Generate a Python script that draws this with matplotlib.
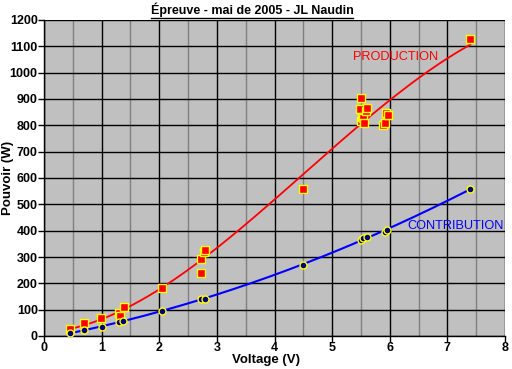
import numpy as np
import matplotlib
matplotlib.use("Agg")
import matplotlib.pyplot as plt
from matplotlib.lines import Line2D
from matplotlib.ticker import MultipleLocator

# Data
prod_v = [0.45, 0.69, 0.99, 1.30, 1.32, 1.39, 2.05, 2.72, 2.72, 2.77, 2.80,
          4.50, 5.49, 5.50, 5.50, 5.52, 5.54, 5.56, 5.59, 5.61, 5.89, 5.92, 5.94, 5.97, 7.40]
prod_p = [27, 49, 68, 87, 75, 110, 182, 239, 292, 320, 325,
          558, 862, 904, 816, 832, 828, 809, 854, 866, 801, 809, 847, 839, 1128]
contr_v = [0.45, 0.69, 1.00, 1.31, 1.37, 2.05, 2.72, 2.79, 4.50, 5.50, 5.54, 5.60, 5.92, 5.95, 7.40]
contr_p = [11, 23, 34, 53, 57, 95, 140, 142, 270, 365, 372, 376, 395, 402, 558]

title = "Épreuve - mai de 2005 - JL Naudin"
xlabel = "Voltage (V)"
ylabel = "Pouvoir (W)"
label_prod = "PRODUCTION"
label_contr = "CONTRIBUTION"

plt.rcParams['font.family'] = ['Liberation Sans', 'DejaVu Sans']
plt.rcParams['font.weight'] = 'bold'

fig = plt.figure(figsize=(5.12, 3.69), dpi=100)
ax = fig.add_axes([44/512, 1-336/369, (505-44)/512, (336-20)/369])
ax.set_facecolor('#C0C0C0')

ax.set_xlim(0, 8)
ax.set_ylim(0, 1200)
ax.xaxis.set_major_locator(MultipleLocator(1))
ax.xaxis.set_minor_locator(MultipleLocator(0.5))
ax.yaxis.set_major_locator(MultipleLocator(100))
ax.grid(True, which='major', color='black', lw=1.0, zorder=0)
ax.grid(True, which='minor', axis='x', color='#808080', lw=1.0, zorder=0)
ax.set_axisbelow(True)
for s in ['top', 'right']:
    ax.spines[s].set_visible(False)
for s in ['left', 'bottom']:
    ax.spines[s].set_color('black')
    ax.spines[s].set_linewidth(1.0)
ax.tick_params(which='major', length=4, width=1, color='black', pad=0.5, labelsize=9)
ax.tick_params(which='minor', length=0)

# Fit curves
pv = np.array(prod_v); pp = np.array(prod_p)
cv = np.array(contr_v); cp = np.array(contr_p)
cf_p = np.polyfit(pv, pp, 3)
cf_c = np.polyfit(cv, cp, 2)
xs_p = np.linspace(pv.min(), pv.max(), 200)
xs_c = np.linspace(cv.min(), cv.max(), 200)
ax.plot(xs_p, np.polyval(cf_p, xs_p), color='red', lw=1.3, zorder=3)
ax.plot(xs_c, np.polyval(cf_c, xs_c), color='blue', lw=1.5, zorder=3)

ax.plot(prod_v, prod_p, ls='none', marker='s', ms=6, mfc='red', mec='yellow', mew=1, zorder=4)
ax.plot(contr_v, contr_p, ls='none', marker='o', ms=5, mfc='#000080', mec='yellow', mew=1, zorder=4)

ax.text(5.36, 1060, label_prod, color='red', fontsize=9.2, fontweight='normal',
        va='center', ha='left', zorder=5)
ax.text(6.30, 418, label_contr, color='blue', fontsize=9.2, fontweight='normal',
        va='center', ha='left', zorder=5)

ax.set_xlabel(xlabel, fontsize=9.5, fontweight='bold')
ax.set_ylabel(ylabel, fontsize=9.5, fontweight='bold')
ax.xaxis.set_label_coords((266-44)/461, -(354.5-336)/316)
ax.yaxis.set_label_coords((14-44)/461, (336-178)/316)

t = fig.text(252/512, 1-10/369, title, ha='center', va='center', fontsize=9,
             fontweight='bold')
fig.canvas.draw()
bb = t.get_window_extent()
yline = (bb.y0 - 1) / fig.bbox.height
fig.add_artist(Line2D([bb.x0/fig.bbox.width, bb.x1/fig.bbox.width], [yline, yline],
                      color='black', lw=1, transform=fig.transFigure))

fig.savefig('out.png', dpi=100, facecolor='white')
